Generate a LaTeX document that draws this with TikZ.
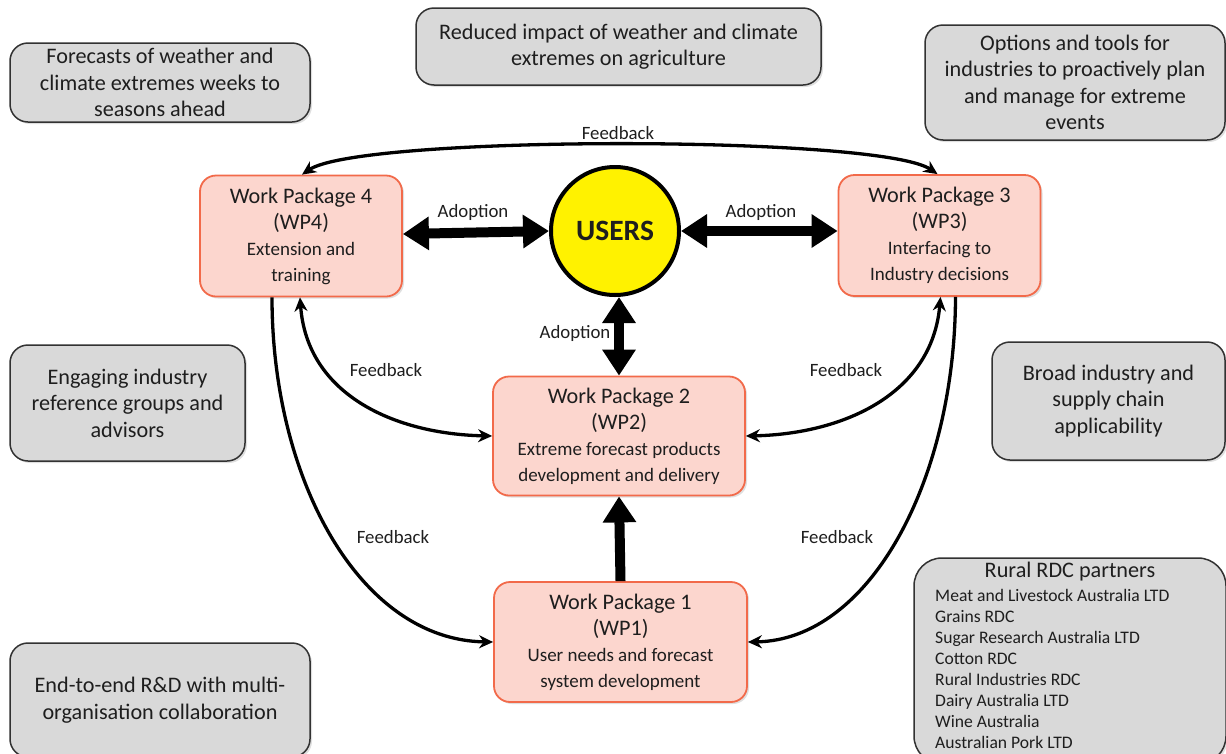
\documentclass[tikz,border=0pt]{standalone}
\usepackage{fontspec}
\setmainfont{Carlito}
\usetikzlibrary{arrows.meta,shadows}
\definecolor{wpfill}{RGB}{252,214,206}
\definecolor{wpdraw}{RGB}{242,106,74}
\definecolor{gfill}{RGB}{217,217,217}
\definecolor{gdraw}{RGB}{50,50,50}
\definecolor{txt}{RGB}{30,30,30}
\newcommand{\dsz}{\fontsize{19}{23}\selectfont}
\begin{document}
\begin{tikzpicture}[x=1pt,y=-1pt,
  every node/.style={text=txt},
  gbox/.style={draw=gdraw, line width=1.5pt, fill=gfill, rounded corners=18pt, align=center,
    font=\fontsize{22.2}{26.5}\selectfont, inner sep=0pt,
    drop shadow={opacity=0.25, shadow xshift=2pt, shadow yshift=-2pt}},
  wpbox/.style={draw=wpdraw, line width=1.8pt, fill=wpfill, rounded corners=16pt, align=center,
    minimum width=202pt, minimum height=121pt, inner sep=0pt,
    font=\fontsize{22.2}{26}\selectfont,
    drop shadow={opacity=0.25, shadow xshift=2pt, shadow yshift=-2pt}},
  fbline/.style={line width=3.3pt, -{Stealth[length=14pt,width=13pt]}},
  fbboth/.style={line width=3.3pt, {Stealth[length=14pt,width=13pt]}-{Stealth[length=14pt,width=13pt]}},
  bigboth/.style={line width=10pt, {Triangle[length=26pt,width=32pt]}-{Triangle[length=26pt,width=32pt]}},
  bigone/.style={line width=10pt, -{Triangle[length=26pt,width=32pt]}},
  lbl/.style={font=\fontsize{18.8}{21}\selectfont, inner sep=1pt}
]
\clip (0,0) rectangle (1226,753);
\fill[white] (0,0) rectangle (1226,753);

% grey context boxes
\node[gbox, minimum width=300pt, minimum height=79pt] (g1) at (160,82.5)
  {Forecasts of weather and\\climate extremes weeks to\\seasons ahead};
\node[gbox, minimum width=405pt, minimum height=77pt] (g2) at (618.5,46.5)
  {Reduced impact of weather and climate\\extremes on agriculture};
\node[gbox, minimum width=300pt, minimum height=115pt] (g3) at (1075,82.5)
  {Options and tools for\\industries to proactively plan\\and manage for extreme\\events};
\node[gbox, minimum width=235pt, minimum height=116pt] (g4) at (127.5,403)
  {Engaging industry\\reference groups and\\advisors};
\node[gbox, minimum width=233pt, minimum height=118pt] (g5) at (1108.5,401)
  {Broad industry and\\supply chain\\applicability};
\node[gbox, minimum width=300pt, minimum height=114pt] (g6) at (160,700)
  {End-to-end R\&D with multi-\\organisation collaboration};
\node[gbox, minimum width=312pt, minimum height=206pt, rounded corners=28pt] (g7) at (1070,661) {};
\node[font=\fontsize{22.2}{24}\selectfont] (g7t) at (1070,572) {Rural RDC partners};
\node[font=\fontsize{17.6}{21}\selectfont, align=left, anchor=west, inner sep=0pt] (g7l) at (935,668.5)
  {Meat and Livestock Australia LTD\\Grains RDC\\Sugar Research Australia LTD\\Cotton RDC\\Rural Industries RDC\\Dairy Australia LTD\\Wine Australia\\Australian Pork LTD};

% work packages
\node[wpbox] (wp4) at (301,236)
  {Work Package 4\\(WP4)\\\dsz Extension and\\\dsz training};
\node[wpbox] (wp3) at (939.5,235.5)
  {Work Package 3\\(WP3)\\\dsz Interfacing to\\\dsz Industry decisions};
\node[wpbox, minimum width=252pt, minimum height=119pt] (wp2) at (619,436)
  {Work Package 2\\(WP2)\\\dsz Extreme forecast products\\\dsz development and delivery};
\node[wpbox, minimum width=253pt, minimum height=120pt] (wp1) at (620.5,642)
  {Work Package 1\\(WP1)\\\dsz User needs and forecast\\\dsz system development};

% users
\node[circle, draw=black, line width=4pt, fill=yellow, minimum size=128pt, inner sep=0pt,
  font=\fontsize{29.5}{32}\selectfont\bfseries] (users) at (615,231) {USERS};

% adoption arrows
\draw[bigboth] ([yshift=-3pt]wp4.east |- users.west) -- (users.west);
\draw[bigboth] (users.east) -- (wp3.west |- users.east);
\draw[bigboth] (wp2.north |- users.south) -- (wp2.north);
\draw[bigone] (wp1.north) -- (wp2.south);
\node[lbl] (a1) at (473,212) {Adoption};
\node[lbl] (a2) at (761,212) {Adoption};
\node[lbl] (a3) at (575,333) {Adoption};

% feedback arrows
\draw[fbboth] ([xshift=1pt]wp4.north) .. controls (360,135) and (880,135) .. ([xshift=-2pt]wp3.north);
\draw[fbboth] ([xshift=-1pt]wp4.south) .. controls (307,395) and (395,434) .. (wp2.west);
\draw[fbboth] ([xshift=1pt]wp3.south) .. controls (932,395) and (842,434) .. (wp2.east);
\draw[fbline] ([xshift=-29pt]wp4.south) .. controls (272,480) and (360,640) .. (wp1.west);
\draw[fbline] ([xshift=16pt]wp3.south) .. controls (955,480) and (870,640) .. (wp1.east);
\node[lbl] (f1) at (618,133) {Feedback};
\node[lbl] (f2) at (386,370) {Feedback};
\node[lbl] (f3) at (846,370) {Feedback};
\node[lbl] (f4) at (393,537) {Feedback};
\node[lbl] (f5) at (837,537) {Feedback};
\end{tikzpicture}
\end{document}
